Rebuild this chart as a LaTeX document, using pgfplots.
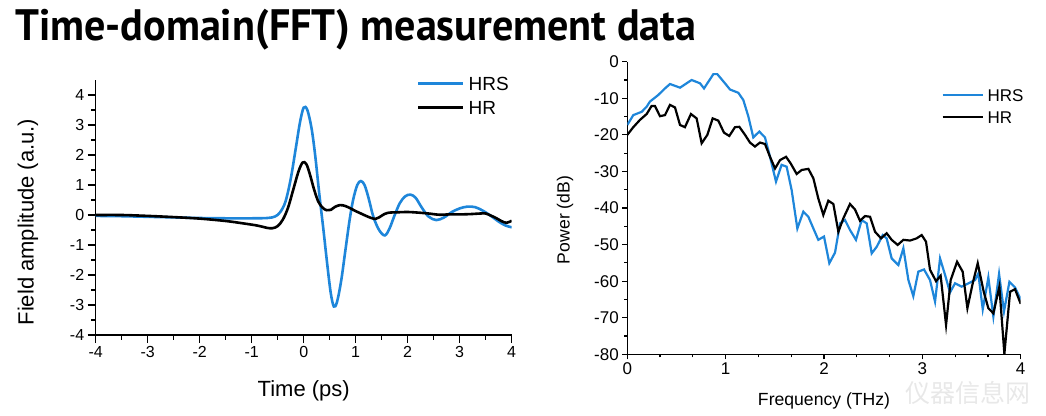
\documentclass[border=0pt]{standalone}
\usepackage{pgfplots}
\pgfplotsset{compat=1.18}
\usepackage{fontspec}
\setmainfont{Liberation Sans}
\newfontfamily\titlefont{PT Sans}
\newfontfamily\cjk{Noto Sans CJK SC}
\definecolor{hrsblue}{RGB}{30,134,218}

\pgfplotstableread{
t v
-4 -0.03
-3.5 -0.04
-3 -0.06
-2.5 -0.08
-2 -0.1
-1.5 -0.11
-1 -0.11
-0.7 -0.1
-0.55 -0.05
-0.45 0.1
-0.35 0.45
-0.25 1.2
-0.15 2.25
-0.07 3.1
0 3.58
0.07 3.5
0.15 2.9
0.22 2.0
0.3 0.7
0.38 -0.5
0.45 -1.6
0.52 -2.6
0.58 -3.05
0.64 -2.9
0.72 -2.2
0.8 -1.2
0.88 -0.2
0.95 0.5
1.03 1.0
1.1 1.13
1.17 1.0
1.25 0.55
1.34 -0.06
1.45 -0.5
1.56 -0.68
1.65 -0.45
1.75 0.0
1.85 0.4
1.95 0.62
2.05 0.68
2.15 0.58
2.27 0.25
2.4 -0.05
2.55 -0.17
2.7 -0.08
2.85 0.1
3.0 0.22
3.15 0.28
3.3 0.26
3.45 0.14
3.6 -0.03
3.75 -0.22
3.88 -0.35
4.0 -0.41
}\hrstime

\pgfplotstableread{
t v
-4 0.0
-3.5 0.0
-3 -0.03
-2.5 -0.07
-2 -0.12
-1.5 -0.2
-1.2 -0.27
-0.9 -0.35
-0.7 -0.43
-0.6 -0.44
-0.5 -0.37
-0.4 -0.15
-0.3 0.25
-0.2 0.85
-0.1 1.45
-0.02 1.75
0.05 1.7
0.12 1.35
0.2 0.85
0.28 0.45
0.36 0.25
0.44 0.16
0.52 0.17
0.6 0.27
0.7 0.33
0.8 0.3
0.9 0.22
1.0 0.13
1.1 0.05
1.2 -0.03
1.3 -0.1
1.38 -0.13
1.45 -0.08
1.55 0.03
1.65 0.08
1.8 0.09
2.0 0.1
2.2 0.08
2.4 0.05
2.6 0.01
2.8 0.02
3.0 0.02
3.2 0.03
3.4 0.05
3.5 0.05
3.6 -0.02
3.7 -0.1
3.8 -0.2
3.9 -0.26
4.0 -0.19
}\hrtime

\pgfplotstableread{
f p
0 -17.3
0.061 -14.6
0.146 -13.7
0.197 -12.3
0.23 -10.9
0.315 -9.1
0.383 -7.3
0.434 -6.1
0.536 -7.1
0.654 -5.0
0.739 -5.9
0.78 -7.3
0.875 -3.4
0.915 -3.4
0.993 -5.9
1.044 -7.6
1.129 -8.5
1.18 -10.5
1.231 -15.0
1.281 -20.7
1.342 -19.1
1.4 -20.7
1.451 -26.0
1.512 -32.8
1.569 -28.2
1.62 -28.7
1.671 -35.1
1.729 -45.6
1.79 -41.0
1.841 -42.4
1.892 -45.6
1.942 -48.7
2.0 -47.8
2.054 -55.1
2.112 -52.2
2.163 -44.2
2.214 -43.3
2.264 -46.0
2.325 -48.7
2.383 -43.3
2.434 -44.2
2.485 -52.4
2.536 -50.6
2.597 -47.4
2.637 -48.3
2.688 -53.8
2.756 -55.6
2.807 -51.0
2.858 -59.7
2.908 -64.1
2.959 -57.4
3.017 -56.8
3.078 -59.7
3.129 -65.6
3.18 -53.8
3.231 -58.3
3.281 -63.1
3.332 -60.6
3.4 -61.5
3.468 -60.6
3.536 -59.7
3.569 -57.9
3.614 -67.7
3.671 -59.0
3.722 -69.7
3.78 -58.0
3.83 -68.3
3.885 -60.2
3.942 -61.7
4.0 -65.0
}\hrsfreq

\pgfplotstableread{
f p
0 -20.0
0.061 -17.9
0.129 -15.9
0.197 -14.3
0.247 -12.1
0.281 -12.1
0.332 -14.9
0.383 -14.6
0.434 -11.8
0.485 -12.5
0.536 -17.3
0.586 -17.9
0.647 -14.3
0.705 -15.5
0.756 -22.3
0.814 -20.0
0.868 -15.5
0.925 -16.1
0.983 -19.4
1.037 -20.3
1.095 -17.9
1.139 -17.8
1.197 -20.0
1.247 -22.1
1.298 -23.2
1.349 -22.1
1.4 -22.5
1.451 -26.0
1.502 -29.2
1.553 -26.9
1.614 -26.0
1.661 -27.8
1.722 -30.7
1.773 -29.6
1.841 -29.3
1.892 -31.9
1.942 -37.4
1.993 -41.9
2.044 -38.0
2.095 -38.9
2.146 -46.5
2.197 -42.8
2.264 -38.9
2.315 -40.4
2.366 -43.5
2.417 -42.2
2.468 -42.4
2.519 -46.5
2.58 -48.3
2.637 -46.9
2.688 -48.7
2.749 -50.1
2.807 -48.7
2.875 -48.9
2.942 -48.3
2.993 -47.4
3.037 -49.2
3.078 -56.9
3.139 -60.0
3.186 -58.5
3.241 -72.0
3.288 -59.7
3.353 -54.7
3.41 -57.4
3.458 -67.4
3.512 -60.6
3.563 -55.1
3.624 -62.9
3.671 -67.4
3.722 -68.8
3.783 -61.5
3.834 -79.9
3.892 -62.9
3.942 -62.2
4.0 -66.2
}\hrfreq

\begin{document}
\begin{tikzpicture}[x=1pt,y=1pt]
\useasboundingbox (0,0) rectangle (1046,415);
\node[anchor=base west, inner sep=0pt] at (15,374)
  {\resizebox{681pt}{\height}{\titlefont\bfseries\fontsize{44}{48}\selectfont Time-domain(FFT) measurement data}};

\node[anchor=west, inner sep=0pt, text=black!9] at (905,22)
  {\cjk\fontsize{25}{25}\selectfont 仪器信息网};

\begin{axis}[
  at={(95.7pt,80pt)}, anchor=south west, scale only axis,
  width=416pt, height=255pt,
  xmin=-4, xmax=4, ymin=-4, ymax=4.5,
  axis x line*=bottom, axis y line*=left,
  axis line style={line width=1.4pt},
  xtick={-4,...,4}, ytick={-4,...,4},
  minor x tick num=1, minor y tick num=1,
  tick align=outside, major tick length=8pt, minor tick length=4.5pt,
  every tick/.style={black, line width=1.3pt},
  /pgf/number format/assume math mode=true,
  ticklabel style={font=\fontsize{16}{16}\selectfont},
  xlabel={Time (ps)}, ylabel={Field amplitude (a.u.)},
  label style={font=\fontsize{22}{22}\selectfont},
  xlabel style={at={(axis description cs:0.5,-0.243)}, anchor=base},
  ylabel style={at={(axis description cs:-0.163,0.443)}, anchor=center},
  legend style={draw=none, fill=none, at={(axis description cs:0.772,1.015)},
    anchor=north west, inner sep=0pt, row sep=10pt,
    nodes={inner sep=0pt, text height=14pt, text depth=0pt},
    font=\fontsize{19}{19}\selectfont},
  legend cell align=left,
  legend image code/.code={\draw[#1] (0pt,0pt) -- (45pt,0pt);},
  clip=true,
]
\addplot[hrsblue, line width=2.6pt, smooth, tension=0.55] table[x=t,y=v] {\hrstime};
\addlegendentry{\hspace{4pt}HRS}
\addplot[black, line width=2.6pt, smooth, tension=0.55] table[x=t,y=v] {\hrtime};
\addlegendentry{\hspace{4pt}HR}
\end{axis}

\begin{axis}[
  at={(627.3pt,60.7pt)}, anchor=south west, scale only axis,
  width=393.4pt, height=292.6pt,
  xmin=0, xmax=4, ymin=-80, ymax=0,
  axis x line*=bottom, axis y line*=left,
  axis line style={line width=1.4pt},
  xtick={0,...,4}, ytick={-80,-70,...,0},
  minor x tick num=2, minor y tick num=1,
  tick align=outside, major tick length=5pt, minor tick length=3pt,
  every tick/.style={black, line width=1.2pt},
  /pgf/number format/assume math mode=true,
  ticklabel style={font=\fontsize{17}{17}\selectfont},
  xlabel={Frequency (THz)}, ylabel={Power (dB)},
  label style={font=\fontsize{17.6}{17.6}\selectfont},
  xlabel style={at={(axis description cs:0.5,-0.174)}, anchor=base},
  ylabel style={at={(axis description cs:-0.158,0.459)}, anchor=center},
  legend style={draw=none, fill=none, at={(axis description cs:0.798,0.908)},
    anchor=north west, inner sep=0pt, row sep=9pt,
    nodes={inner sep=0pt, text height=13pt, text depth=0pt},
    font=\fontsize{17}{17}\selectfont},
  legend cell align=left,
  legend image code/.code={\draw[#1] (0pt,0pt) -- (40pt,0pt);},
  clip=true,
]
\addplot[hrsblue, line width=2.2pt] table[x=f,y=p] {\hrsfreq};
\addlegendentry{\hspace{4pt}HRS}
\addplot[black, line width=2.2pt] table[x=f,y=p] {\hrfreq};
\addlegendentry{\hspace{4pt}HR}
\end{axis}
\end{tikzpicture}
\end{document}
